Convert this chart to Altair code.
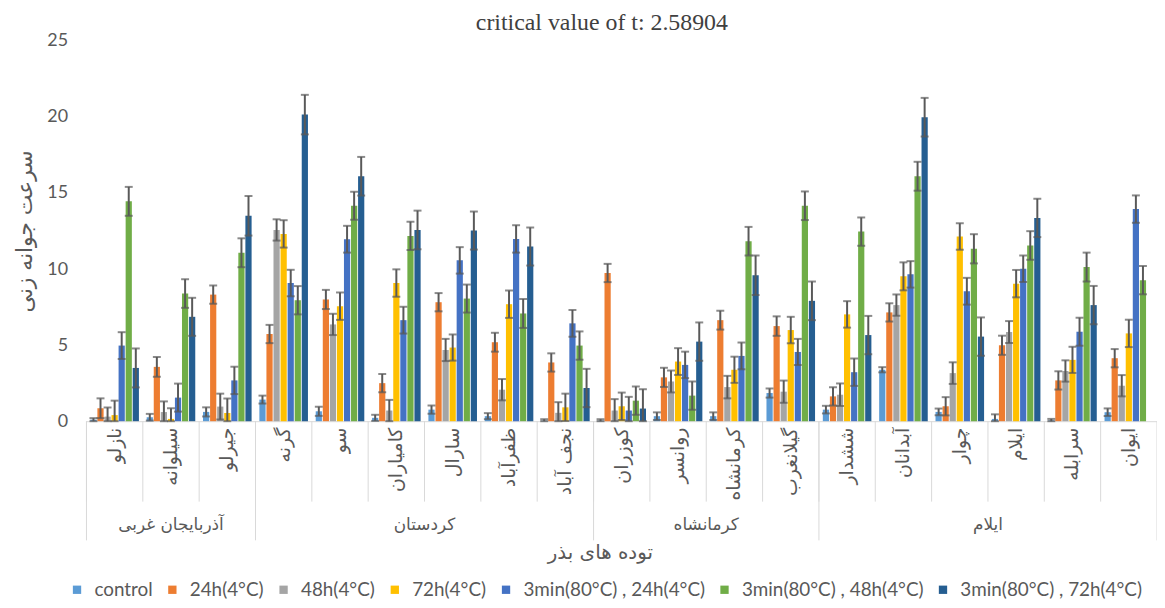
import altair as alt
import pandas as pd

provinces = ["آذربایجان غربی", "کردستان", "کرمانشاه", "ایلام"]
province_sizes = [3, 6, 4, 6]
populations = ["نازلو", "سیلوانه", "جیرلو", "گرنه", "سو", "کامیاران", "سارال",
               "ظفرآباد", "نجف آباد", "کوزران", "روانسر", "کرمانشاه", "گیلانغرب",
               "ششدار", "آبدانان", "چوار", "ایلام", "سرابله", "ایوان"]
treatments = ["control", "24h(4°C)", "48h(4°C)", "72h(4°C)",
              "3min(80°C) , 24h(4°C)", "3min(80°C) , 48h(4°C)", "3min(80°C) , 72h(4°C)"]
colors = ["#5B9BD5", "#ED7D31", "#A5A5A5", "#FFC000", "#4472C4", "#70AD47", "#255E91"]

control = [0.1, 0.26, 0.61, 1.42, 0.65, 0.22, 0.76, 0.33, 0.03, 0.03, 0.33, 0.33, 1.85, 0.76, 3.38, 0.61, 0.15, 0.05, 0.59]
h24 = [0.85, 3.57, 8.32, 5.73, 8.0, 2.5, 7.82, 5.19, 3.86, 9.74, 2.88, 6.64, 6.25, 1.63, 7.15, 0.98, 4.99, 2.68, 4.14]
h48 = [0.3, 0.6, 0.96, 12.57, 6.36, 0.7, 4.68, 2.07, 0.55, 0.7, 2.61, 2.24, 1.94, 1.74, 7.63, 3.16, 5.86, 3.3, 2.33]
h72 = [0.4, 0.15, 0.54, 12.31, 7.56, 9.08, 4.84, 7.69, 0.91, 0.98, 3.92, 3.38, 5.99, 7.02, 9.52, 12.14, 9.04, 4.03, 5.77]
m24 = [4.97, 1.55, 2.68, 9.08, 11.96, 6.64, 10.57, 11.98, 6.43, 0.7, 3.7, 4.29, 4.55, 3.22, 9.65, 8.54, 10.02, 5.88, 13.94]
m48 = [14.45, 8.39, 11.07, 7.95, 14.16, 12.18, 8.06, 7.08, 4.97, 1.35, 1.68, 11.83, 14.16, 12.46, 16.1, 11.33, 11.55, 10.13, 9.27]
# last value is cut off at the edge of the reference image, so it is left unknown
m72 = [3.5, 6.86, 13.5, 20.15, 16.1, 12.57, 12.53, 11.48, 2.18, 0.83, 5.23, 9.59, 7.91, 5.66, 19.98, 5.56, 13.36, 7.63, None]

control_err = [0.1, 0.22, 0.3, 0.26, 0.3, 0.2, 0.27, 0.2, 0.1, 0.1, 0.25, 0.25, 0.3, 0.25, 0.17, 0.22, 0.3, 0.1, 0.25]
h24_err = [0.65, 0.65, 0.6, 0.6, 0.63, 0.6, 0.6, 0.62, 0.6, 0.6, 0.63, 0.62, 0.64, 0.6, 0.6, 0.6, 0.63, 0.6, 0.6]
h48_err = [0.6, 0.7, 0.85, 0.7, 0.7, 0.7, 0.73, 0.7, 0.7, 0.75, 0.72, 0.74, 0.73, 0.74, 0.7, 0.71, 0.72, 0.7, 0.7]
h72_err = [0.95, 0.7, 0.95, 0.9, 0.9, 0.9, 0.86, 0.9, 0.9, 0.9, 0.88, 0.86, 0.87, 0.87, 0.92, 0.87, 0.9, 0.86, 0.9]
m24_err = [0.88, 0.92, 0.9, 0.87, 0.88, 0.88, 0.87, 0.9, 0.88, 0.9, 0.87, 0.88, 0.86, 0.9, 0.87, 0.88, 0.87, 0.92, 0.9]
m48_err = [0.95, 0.94, 0.95, 0.93, 0.92, 0.93, 0.92, 0.95, 0.93, 0.93, 0.93, 0.94, 0.94, 0.93, 0.95, 0.96, 0.94, 0.95, 0.93]
m72_err = [1.28, 1.25, 1.3, 1.3, 1.27, 1.27, 1.25, 1.25, 1.26, 1.27, 1.26, 1.3, 1.27, 1.26, 1.27, 1.26, 1.26, 1.26, None]

series_vals = [control, h24, h48, h72, m24, m48, m72]
series_errs = [control_err, h24_err, h48_err, h72_err, m24_err, m48_err, m72_err]

rows = []
for t, vals, errs in zip(treatments, series_vals, series_errs):
    for p, v, e in zip(populations, vals, errs):
        if v is None:
            continue
        rows.append({"population": p, "treatment": t, "mean": v, "err": e})
df = pd.DataFrame(rows)

# province grouping helpers
grp_rows, sep_rows = [], []
start = 0
for prov, n in zip(provinces, province_sizes):
    members = populations[start:start + n]
    sep_rows.append({"population": members[0], "edge": "start"})
    grp_rows.append({"province": prov, "population": members[n // 2], "odd": n % 2 == 1})
    start += n
sep_rows.append({"population": populations[-1], "edge": "end"})
cats = pd.DataFrame({"population": populations})
grps = pd.DataFrame(grp_rows)
seps = pd.DataFrame(sep_rows)

H = 383
W = 1078
GREY = "#595959"
LINE = "#D9D9D9"

x_axis = alt.Axis(labelAngle=-90, labelFontSize=19, labelColor=GREY,
                  labelFont="DejaVu Sans", ticks=False, domainColor=LINE,
                  labelPadding=6, labelOverlap=False, labelBound=False,
                  title="توده های بذر", titleX=517, titleY=132,
                  titleFontSize=20, titleFontWeight="normal", titleColor=GREY,
                  titleFont="DejaVu Sans", titleBaseline="middle", titleAlign="center")


def xenc(band=None):
    kw = dict(sort=populations,
              scale=alt.Scale(domain=populations, paddingInner=0, paddingOuter=0),
              axis=x_axis)
    if band is not None:
        kw["bandPosition"] = band
    return alt.X("population:N", **kw)


xo = alt.XOffset("treatment:N", sort=treatments,
                 scale=alt.Scale(domain=treatments, paddingInner=0.12, paddingOuter=0.55))

y_scale = alt.Scale(domain=[0, 25], nice=False, zero=True)
y_axis = alt.Axis(values=[0, 5, 10, 15, 20, 25], grid=False, domain=False, ticks=False,
                  labelPadding=19, labelFontSize=18, labelColor=GREY, labelFont="Lato",
                  title="سرعت جوانه زنی", titleFontSize=22, titleColor=GREY,
                  titleFont="DejaVu Sans", titleFontWeight="normal",
                  titleX=-62, titleY=H / 2, titleAngle=-90,
                  titleAlign="center", titleBaseline="middle")


def yenc(field):
    return alt.Y(field, scale=y_scale, axis=y_axis)


base = alt.Chart(df).transform_calculate(
    lo="max(datum.mean - datum.err, 0)", hi="datum.mean + datum.err")

bars = base.mark_bar().encode(
    x=xenc(),
    xOffset=xo,
    y=yenc("mean:Q"),
    color=alt.Color("treatment:N", sort=treatments,
                    scale=alt.Scale(domain=treatments, range=colors),
                    legend=alt.Legend(orient="none", legendX=-19, legendY=543,
                                      direction="horizontal", title=None,
                                      labelFontSize=19, labelColor=GREY, labelFont="Lato",
                                      labelLimit=400,
                                      symbolType="square", symbolSize=70,
                                      symbolStrokeWidth=0, columnPadding=10,
                                      labelOffset=8)),
)

err_rule = base.mark_rule(color=GREY, strokeWidth=2).encode(
    x=xenc(), xOffset=xo, y=yenc("lo:Q"), y2="hi:Q")
cap_hi = base.mark_tick(color=GREY, thickness=2, size=8).encode(
    x=xenc(), xOffset=xo, y=yenc("hi:Q"))
cap_lo = base.mark_tick(color=GREY, thickness=2, size=8).encode(
    x=xenc(), xOffset=xo, y=yenc("lo:Q"))

cat_sep = alt.Chart(cats).mark_rule(color=LINE, strokeWidth=1).encode(
    x=xenc(band=0), y=alt.value(H), y2=alt.value(H + 81))
grp_sep_start = alt.Chart(seps).transform_filter("datum.edge == 'start'").mark_rule(
    color=LINE, strokeWidth=1).encode(x=xenc(band=0), y=alt.value(H), y2=alt.value(H + 120))
grp_sep_end = alt.Chart(seps).transform_filter("datum.edge == 'end'").mark_rule(
    color=LINE, strokeWidth=1).encode(x=xenc(band=1), y=alt.value(H), y2=alt.value(H + 120))

grp_text_odd = alt.Chart(grps).transform_filter("datum.odd").mark_text(
    fontSize=17, color=GREY, font="DejaVu Sans", baseline="middle").encode(
    x=xenc(band=0.5), y=alt.value(H + 105), text="province:N")
grp_text_even = alt.Chart(grps).transform_filter("!datum.odd").mark_text(
    fontSize=17, color=GREY, font="DejaVu Sans", baseline="middle").encode(
    x=xenc(band=0), y=alt.value(H + 105), text="province:N")

chart = alt.layer(
    bars, err_rule, cap_hi, cap_lo, cat_sep, grp_sep_start, grp_sep_end,
    grp_text_odd, grp_text_even
).properties(
    width=W, height=H,
    title=alt.TitleParams("critical value of t: 2.58904", font="Liberation Serif",
                          fontSize=24, fontWeight="normal", color="#404040",
                          anchor="middle", frame="group", dx=-20, dy=10, offset=7),
    autosize=alt.AutoSizeParams(type="none"),
    padding={"left": 79, "top": 31, "right": 0, "bottom": 178},
).configure_view(stroke=None)

chart.save("out.html", embed_options={"renderer": "svg", "actions": False})
